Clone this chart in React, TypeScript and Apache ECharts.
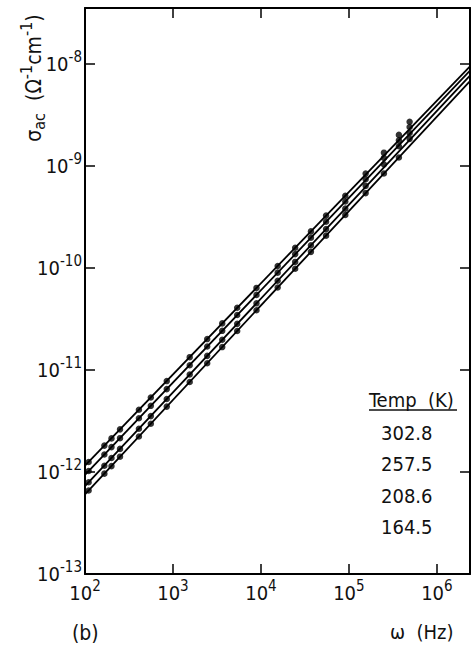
import { useEffect, useRef } from "react";
import * as echarts from "echarts";

// frequencies of measured points (Hz)
const freqHz = [110, 166, 200, 250, 410, 560, 850, 1550, 2450, 3630, 5370, 8900, 15500, 24500, 37000, 55000, 91000, 155000, 250000, 370000, 490000];

const temps = ["302.8", "257.5", "208.6", "164.5"];

// measured sigma_ac (ohm^-1 cm^-1)
const sigma302 = [1.25e-12, 1.81e-12, 2.13e-12, 2.61e-12, 4.06e-12, 5.36e-12, 7.76e-12, 1.33e-11, 2.0e-11, 2.85e-11, 4.05e-11, 6.34e-11, 1.04e-10, 1.57e-10, 2.27e-10, 3.24e-10, 5.07e-10, 8.36e-10, 1.34e-9, 2.0e-9, 2.69e-9];
const sigma257 = [1.02e-12, 1.48e-12, 1.75e-12, 2.14e-12, 3.35e-12, 4.44e-12, 6.47e-12, 1.11e-11, 1.69e-11, 2.41e-11, 3.44e-11, 5.42e-11, 8.95e-11, 1.36e-10, 1.97e-10, 2.82e-10, 4.45e-10, 7.36e-10, 1.19e-9, 1.77e-9, 2.39e-9];
const sigma208 = [7.91e-13, 1.15e-12, 1.37e-12, 1.68e-12, 2.65e-12, 3.52e-12, 5.18e-12, 9.0e-12, 1.37e-11, 1.97e-11, 2.82e-11, 4.48e-11, 7.46e-11, 1.14e-10, 1.66e-10, 2.39e-10, 3.79e-10, 6.34e-10, 1.03e-9, 1.55e-9, 2.09e-9];
const sigma164 = [6.58e-13, 9.62e-13, 1.14e-12, 1.41e-12, 2.22e-12, 2.96e-12, 4.36e-12, 7.6e-12, 1.16e-11, 1.67e-11, 2.4e-11, 3.83e-11, 6.4e-11, 9.77e-11, 1.43e-10, 2.06e-10, 3.29e-10, 5.38e-10, 8.38e-10, 1.2e-9, 1.83e-9];

// fitted straight lines (end points)
const fitX = [100, 2.38e6];
const fit302 = [1.15e-12, 9.37e-9];
const fit257 = [9.33e-13, 8.51e-9];
const fit208 = [7.24e-13, 7.62e-9];
const fit164 = [6.03e-13, 6.73e-9];

const xMin = 100;
const xMax = 2.38e6;
const yMin = 1e-13;
const yMax = 3.5e-8;

const FONT = "'Liberation Sans Narrow', 'DejaVu Sans Condensed', 'Liberation Sans', Arial, sans-serif";

function pow10Label(v: number) {
  const l = Math.log10(v);
  const e = Math.round(l);
  if (Math.abs(l - e) > 0.01) return "";
  return `{b|10}{s|${e}}`;
}

const richLabel = {
  b: { fontSize: 20, lineHeight: 20, color: "#111", fontFamily: FONT },
  s: { fontSize: 15, lineHeight: 15, padding: [0, 0, 14, 0], color: "#111", fontFamily: FONT },
};

export default function App() {
  const ref = useRef<HTMLDivElement>(null);
  useEffect(() => {
    document.body.style.margin = "0";
    const chart = echarts.init(ref.current!, null, { renderer: "svg" });
    const allSeries = [sigma302, sigma257, sigma208, sigma164];
    const fits = [fit302, fit257, fit208, fit164];
    const series: any[] = [];
    fits.forEach((f, i) => {
      series.push({
        type: "line",
        name: temps[i] + " fit",
        data: fitX.map((x, k) => [x, f[k]]),
        showSymbol: false,
        lineStyle: { color: "#000", width: 1.8 },
        silent: true,
      });
    });
    allSeries.forEach((s, i) => {
      series.push({
        type: "scatter",
        name: temps[i],
        data: freqHz.map((x, k) => [x, s[k]]),
        symbol: "circle",
        symbolSize: 6.5,
        itemStyle: { color: "#000" },
      });
    });
    const tickStyle = { show: true, inside: true, length: 10, lineStyle: { color: "#000", width: 1.5 } };
    const lineStyle = { show: true, lineStyle: { color: "#000", width: 2 } };
    chart.setOption({
      animation: false,
      backgroundColor: "#fff",
      grid: { left: 85, right: 3, top: 8, bottom: 72, containLabel: false },
      xAxis: [
        {
          type: "log", logBase: 10, min: xMin, max: xMax, position: "bottom",
          axisLine: lineStyle, axisTick: tickStyle, splitLine: { show: false }, minorTick: { show: false },
          axisLabel: { formatter: pow10Label, rich: richLabel, margin: 9, hideOverlap: false },
        },
        {
          type: "log", logBase: 10, min: xMin, max: xMax, position: "top",
          axisLine: lineStyle, axisTick: tickStyle, splitLine: { show: false },
          axisLabel: { show: false },
        },
      ],
      yAxis: [
        {
          type: "log", logBase: 10, min: yMin, max: yMax, position: "left",
          axisLine: lineStyle, axisTick: tickStyle, splitLine: { show: false },
          axisLabel: { formatter: pow10Label, rich: richLabel, margin: 3 },
        },
        {
          type: "log", logBase: 10, min: yMin, max: yMax, position: "right",
          axisLine: lineStyle, axisTick: tickStyle, splitLine: { show: false },
          axisLabel: { show: false },
        },
      ],
      series,
      graphic: [
        {
          type: "text",
          x: 34, y: 78, rotation: Math.PI / 2,
          style: {
            text: "{g|σ}{sub|ac}{g|  (Ω}{sup|-1}{g|cm}{sup|-1}{g|)}",
            align: "center", verticalAlign: "middle",
            rich: {
              g: { fontSize: 21, lineHeight: 22, fill: "#111", fontFamily: FONT },
              sup: { fontSize: 16, lineHeight: 16, padding: [0, 0, 15, 0], fill: "#111", fontFamily: FONT },
              sub: { fontSize: 16, lineHeight: 16, padding: [10, 0, 0, 0], fill: "#111", fontFamily: FONT },
            },
          },
        },
        {
          type: "text", x: 369, y: 400,
          style: { text: "Temp  (K)", fontSize: 20, fontFamily: FONT, fill: "#111", verticalAlign: "middle" },
        },
        { type: "line", shape: { x1: 369, y1: 410, x2: 457, y2: 410 }, style: { stroke: "#111", lineWidth: 1.5 } },
        ...temps.map((t, i) => ({
          type: "text", x: 381, y: 433 + i * 31.3,
          style: { text: t, fontSize: 20, fontFamily: FONT, fill: "#111", verticalAlign: "middle" },
        })),
        {
          type: "text", x: 72, y: 633,
          style: { text: "(b)", fontSize: 21, fontFamily: FONT, fill: "#111", verticalAlign: "middle" },
        },
        {
          type: "text", x: 390, y: 632,
          style: { text: "ω  (Hz)", fontSize: 20, fontFamily: FONT, fill: "#111", verticalAlign: "middle" },
        },
      ],
    });
    return () => chart.dispose();
  }, []);
  return <div ref={ref} style={{ width: 473, height: 646 }} />;
}
